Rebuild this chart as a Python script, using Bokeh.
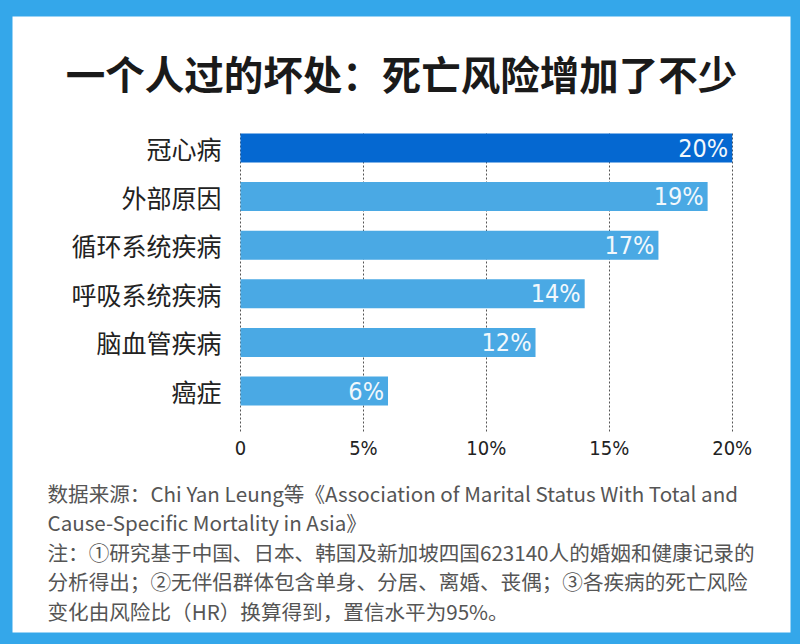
from bokeh.plotting import figure
from bokeh.models import Range1d, FixedTicker, Label
from bokeh.core.properties import value
from bokeh.embed import file_html
from bokeh.resources import INLINE

# ---------------- data ----------------
title_text = "一个人过的坏处：死亡风险增加了不少"
categories = ["冠心病", "外部原因", "循环系统疾病", "呼吸系统疾病", "脑血管疾病", "癌症"]
risk_increase = [20, 19, 17, 14, 12, 6]
value_labels = ["20%", "19%", "17%", "14%", "12%", "6%"]
x_ticks = [0, 5, 10, 15, 20]
x_tick_labels = ["0", "5%", "10%", "15%", "20%"]
footnote_lines = [
    "数据来源：Chi Yan Leung等《Association of Marital Status With Total and",
    "Cause-Specific Mortality in Asia》",
    "注：①研究基于中国、日本、韩国及新加坡四国623140人的婚姻和健康记录的",
    "分析得出；②无伴侣群体包含单身、分居、离婚、丧偶；③各疾病的死亡风险",
    "变化由风险比（HR）换算得到，置信水平为95%。",
]

# ---------------- styling / geometry ----------------
BLUE_FRAME = "#34a7ea"
DARK_BAR = "#0568d1"
LIGHT_BAR = "#4aa9e4"
bar_colors = [DARK_BAR] + [LIGHT_BAR] * (len(categories) - 1)
NUM_FONT = "'DejaVu Sans Condensed', Roboto, 'Noto Sans', sans-serif"

W, H = 796, 640
PAGE_OFF = 0
# white panel in page pixels
PANEL_L, PANEL_R, PANEL_T, PANEL_B = 12, 790, 16, 632
X0_PX = 240.0          # page x of 0%
PX_PER_PCT = 24.585    # pixels per percent
ROW0_PX = 147.5        # page y of first bar centre
ROW_PX = 48.6          # pixels between bars


def xd(px):
    return (px - X0_PX) / PX_PER_PCT


def yd(py):
    return (py - ROW0_PX) / ROW_PX


p = figure(
    width=W, height=H,
    output_backend="svg", toolbar_location=None,
    x_range=Range1d(xd(PANEL_L), xd(PANEL_R)),
    y_range=Range1d(yd(PANEL_B), yd(PANEL_T)),
    min_border_left=PANEL_L - PAGE_OFF,
    min_border_right=(W + PAGE_OFF) - PANEL_R,
    min_border_top=PANEL_T - PAGE_OFF,
    min_border_bottom=(H + PAGE_OFF) - PANEL_B,
)
p.border_fill_color = BLUE_FRAME
p.background_fill_color = "white"
p.outline_line_color = None

idx = list(range(len(categories)))

# grid (dotted, limited in vertical extent)
p.ygrid.visible = False
p.xgrid.ticker = FixedTicker(ticks=x_ticks)
p.xgrid.grid_line_color = "#555555"
p.xgrid.grid_line_dash = "2 2"
p.xgrid.grid_line_width = 1
p.xgrid.cross_bounds = (yd(133), yd(433))

# bars
p.hbar(y=idx, left=0, right=risk_increase, height=29 / ROW_PX,
       fill_color=bar_colors, line_color=None)

# value labels inside bars
p.text(x=risk_increase, y=idx, text=value_labels, x_offset=-4,
       text_align="right", text_baseline="middle", text_color="#f2f8fc",
       text_font=value(NUM_FONT), text_font_size="25px")

# y axis (categories), placed inside the white panel at x=0
yax = p.yaxis[0]
yax.fixed_location = 0
yax.ticker = FixedTicker(ticks=idx)
yax.major_label_overrides = {i: c for i, c in zip(idx, categories)}
yax.axis_line_color = None
yax.major_tick_line_color = None
yax.minor_tick_line_color = None
yax.major_tick_in = 0
yax.major_tick_out = 0
yax.major_label_standoff = 19
yax.major_label_text_font = "Noto Sans CJK SC"
yax.major_label_text_font_size = "25px"
yax.major_label_text_color = "#222222"

# x axis (percent ticks)
xax = p.xaxis[0]
xax.fixed_location = yd(433)
xax.ticker = FixedTicker(ticks=x_ticks)
xax.major_label_overrides = {t: l for t, l in zip(x_ticks, x_tick_labels)}
xax.axis_line_color = None
xax.major_tick_line_color = None
xax.minor_tick_line_color = None
xax.major_tick_in = 0
xax.major_tick_out = 0
xax.major_label_standoff = 2
xax.major_label_text_font = NUM_FONT
xax.major_label_text_font_size = "20px"
xax.major_label_text_color = "#222222"

# title
p.add_layout(Label(x=xd(401), y=yd(72), text=title_text,
                   text_align="center", text_baseline="middle",
                   text_font="Noto Sans CJK SC", text_font_style="bold",
                   text_font_size="39.5px", text_color="#1a1a1a"))

# footnotes
foot_y = [492, 521, 551, 580, 610]
for line, fy in zip(footnote_lines, foot_y):
    p.add_layout(Label(x=xd(47), y=yd(fy), text=line,
                       text_align="left", text_baseline="middle",
                       text_font="Noto Sans CJK SC", text_font_size="20.6px",
                       text_color="#555555"))

html = file_html(p, INLINE)
html = html.replace("</head>", "<style>html,body{background:%s;}</style></head>" % BLUE_FRAME, 1)
open("out.html", "w").write(html)
